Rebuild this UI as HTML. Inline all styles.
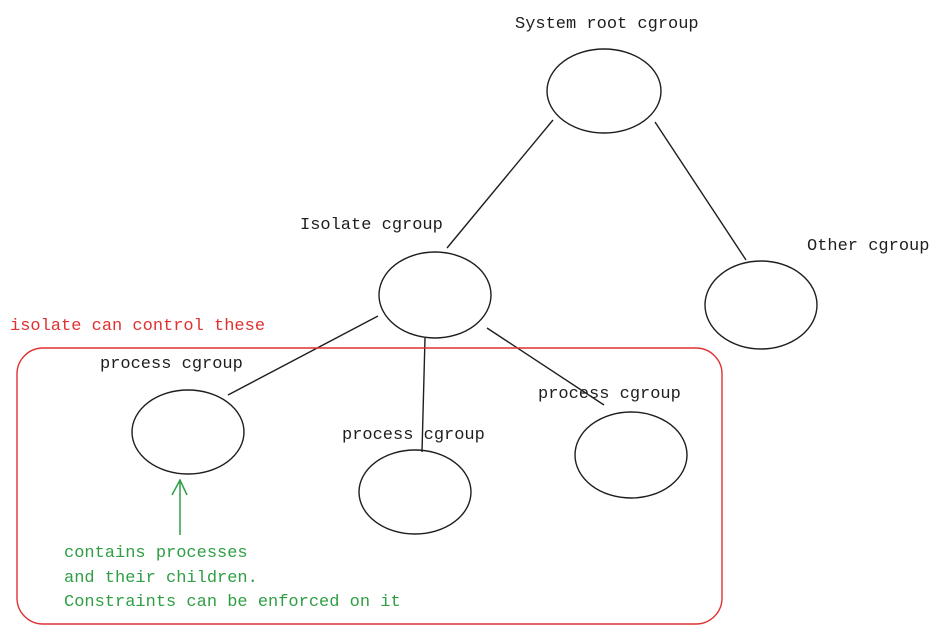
<!DOCTYPE html>
<html><head><meta charset="utf-8"><style>
html,body{margin:0;padding:0;background:#fff;}
svg text{font-family:"Liberation Mono",monospace;font-size:17px;}
</style></head><body>
<svg width="943" height="634" viewBox="0 0 943 634" xmlns="http://www.w3.org/2000/svg">
<g fill="none" stroke="#1e1e1e" stroke-width="1.4">
<ellipse cx="604" cy="91" rx="57" ry="42"/>
<ellipse cx="435" cy="295" rx="56" ry="43"/>
<ellipse cx="761" cy="305" rx="56" ry="44"/>
<ellipse cx="188" cy="432" rx="56" ry="42"/>
<ellipse cx="415" cy="492" rx="56" ry="42"/>
<ellipse cx="631" cy="455" rx="56" ry="43"/>
<line x1="553" y1="120" x2="447" y2="248"/>
<line x1="655" y1="122" x2="746" y2="260"/>
<line x1="378" y1="316" x2="228" y2="395"/>
<line x1="425" y1="338" x2="422" y2="452"/>
<line x1="487" y1="328" x2="604" y2="405"/>
</g>
<rect x="17" y="348" width="705" height="276" rx="26" fill="none" stroke="#e03131" stroke-width="1.4"/>
<g stroke="#2f9e44" stroke-width="1.5" fill="none">
<line x1="180" y1="535" x2="180" y2="480"/>
<polyline points="172,495 180,480 187,495"/>
</g>
<g fill="#1e1e1e">
<text x="515" y="28">System root cgroup</text>
<text x="300" y="229">Isolate cgroup</text>
<text x="807" y="250">Other cgroup</text>
<text x="100" y="368">process cgroup</text>
<text x="342" y="439">process cgroup</text>
<text x="538" y="398">process cgroup</text>
</g>
<text x="10" y="330" fill="#e03131">isolate can control these</text>
<g fill="#2f9e44">
<text x="64" y="557">contains processes</text>
<text x="64" y="582">and their children.</text>
<text x="64" y="606">Constraints can be enforced on it</text>
</g>
</svg>
</body></html>
